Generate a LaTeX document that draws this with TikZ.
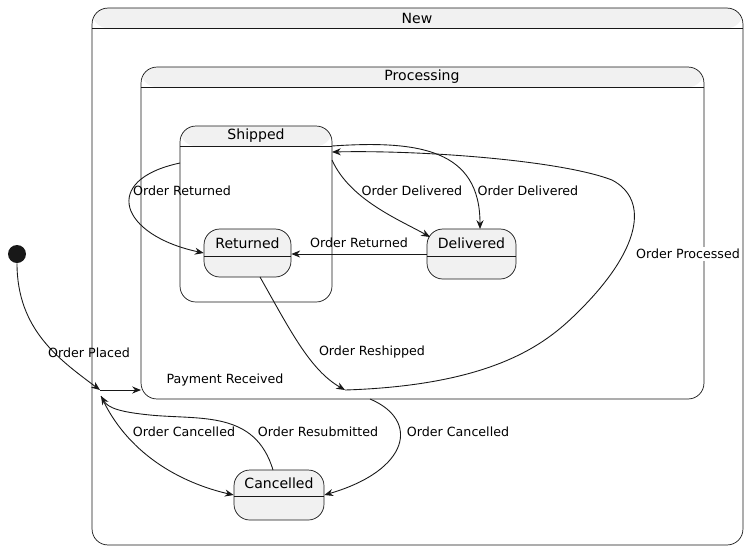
\documentclass[tikz,border=0pt]{standalone}
\usepackage{fontspec}
\setmainfont{DejaVu Sans}
\usetikzlibrary{arrows.meta}
\definecolor{stfill}{HTML}{F1F1F1}
\definecolor{stline}{HTML}{181818}
\tikzset{
  state/.style={draw=stline,fill=stfill,rounded corners=9pt,line width=0.4pt,inner sep=0pt},
  composite/.style={state,fill=white,path picture={
      \fill[stfill] (path picture bounding box.north west) rectangle ([yshift=-0.4cm]path picture bounding box.north east);}},
  title/.style={font=\fontsize{8}{9}\selectfont},
  lbl/.style={font=\fontsize{7.2}{9}\selectfont,inner sep=1pt},
  tr/.style={-{Stealth[length=5pt,width=4pt]},draw=stline,line width=0.5pt},
}
\begin{document}
\begin{tikzpicture}[x=0.02cm,y=-0.02cm]
\useasboundingbox (0,0) rectangle (749,549);
% composite states
\node[composite,minimum width=13.02cm,minimum height=10.74cm] (new) at (417.5,276.5) {};
\draw[stline,line width=0.4pt] (92,28) -- (743,28);
\node[title] (newt) at (417,18) {New};
\node[composite,minimum width=11.26cm,minimum height=6.64cm] (proc) at (422.5,233) {};
\draw[stline,line width=0.4pt] (141,87) -- (704,87);
\node[title] (proct) at (422,77) {Processing};
\node[composite,minimum width=3.04cm,minimum height=3.52cm] (shipped) at (256,214) {};
\draw[stline,line width=0.4pt] (180,146) -- (332,146);
\node[title] (shippedt) at (256,136) {Shipped};
% simple states
\node[state,minimum width=1.74cm,minimum height=0.96cm] (returned) at (247.5,253) {};
\draw[stline,line width=0.4pt] (204,256) -- (291,256);
\node[title] at (247.5,243) {Returned};
\node[state,minimum width=1.78cm,minimum height=1.0cm] (delivered) at (471.5,254) {};
\draw[stline,line width=0.4pt] (427,256) -- (516,256);
\node[title] at (471.5,243) {Delivered};
\node[state,minimum width=1.8cm,minimum height=1.0cm] (cancelled) at (279,495) {};
\draw[stline,line width=0.4pt] (234,496) -- (324,496);
\node[title] at (279,483) {Cancelled};
% initial state and junctions
\node[circle,fill=stline,minimum size=0.36cm,inner sep=0pt] (init) at (17,254) {};
\coordinate (fork) at (100,390);
\coordinate (join) at (345,390);
% transitions
\draw[tr] (init.south) .. controls (17,330) and (60,360) .. (fork);
\node[lbl] at (89,353) {Order Placed};
\draw[tr] (fork) -- (141,390);
\node[lbl] at (225,380) {Payment Received};
\draw[tr] (101,396) .. controls (130,460) and (190,485) .. (cancelled.west);
\node[lbl] at (184,432) {Order Cancelled};
\draw[tr] (273,470) .. controls (255,410) and (200,420) .. (150,415) .. controls (120,412) and (108,408) .. (101,396);
\node[lbl] at (318,432) {Order Resubmitted};
\draw[tr] (370,399) .. controls (420,420) and (410,470) .. (cancelled.east);
\node[lbl] at (458,432) {Order Cancelled};
\draw[tr] (260,277) .. controls (290,330) and (310,370) .. (join);
\node[lbl] at (372,352) {Order Reshipped};
\draw[tr] (join) .. controls (500,385) and (550,340) .. (580,310) .. controls (640,250) and (650,200) .. (612,180) .. controls (560,160) and (420,150) .. (332,152);
\node[lbl,fill=white] at (688,254) {Order Processed};
\draw[tr] (180,163) .. controls (100,180) and (120,235) .. (returned.west);
\node[lbl] at (182,191) {Order Returned};
\draw[tr] (332,160) .. controls (350,200) and (400,220) .. (430,237);
\node[lbl] at (412,191) {Order Delivered};
\draw[tr] (332,146) .. controls (420,140) and (480,150) .. (480,229);
\node[lbl] at (528,191) {Order Delivered};
\draw[tr] (delivered.west |- 0,254) -- (returned.east |- 0,254);
\node[lbl] at (359,243) {Order Returned};
\end{tikzpicture}
\end{document}
